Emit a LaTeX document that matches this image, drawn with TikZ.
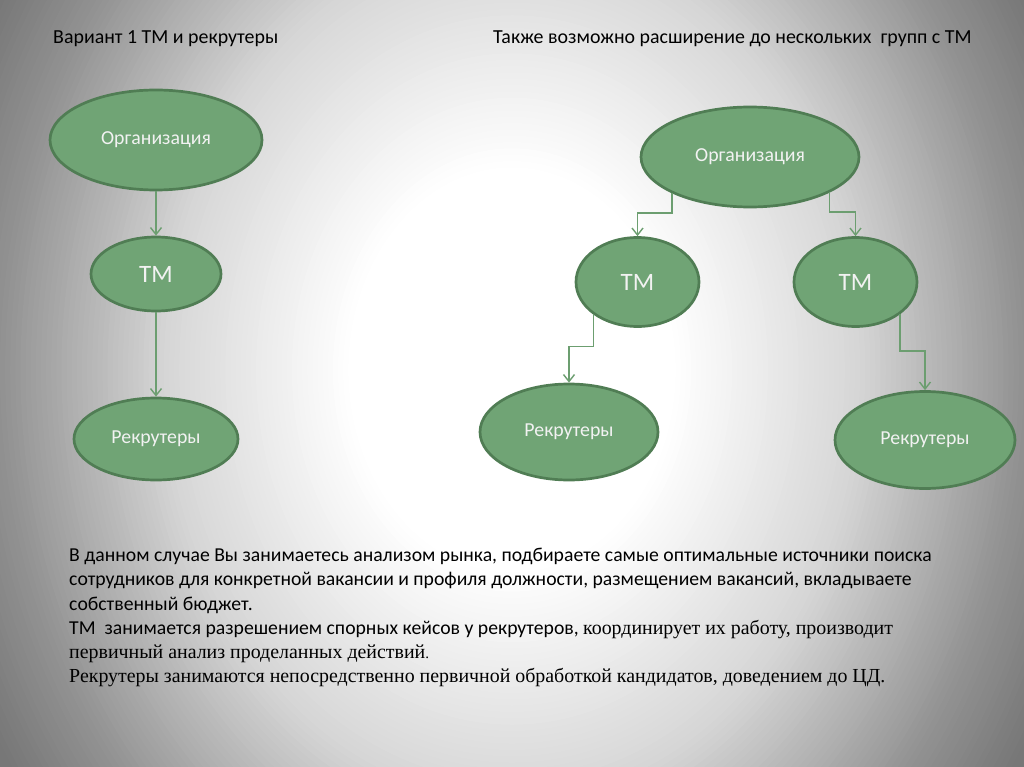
\documentclass[tikz,border=0pt]{standalone}
\usepackage{fontspec}
\setmainfont{Carlito}
\newfontfamily\tnr{Liberation Serif}
\usetikzlibrary{shapes.geometric,arrows.meta}
\definecolor{nodefill}{RGB}{112,164,117}
\definecolor{nodeedge}{RGB}{80,125,84}
\definecolor{connc}{RGB}{108,158,112}
\definecolor{nodetext}{RGB}{242,242,242}
\tikzset{
  blob/.style={ellipse, draw=nodeedge, line width=2.7pt, fill=nodefill, text=nodetext, inner sep=0pt},
  conn/.style={draw=connc, line width=1.4pt, -{Straight Barb[length=7pt,width=11pt,line width=1.4pt]}},
  lbl/.style={anchor=base west, inner sep=0pt, text=black},
  nodefont/.style={font=\fontsize{19.8}{23}\selectfont},
  tmfont/.style={font=\fontsize{25}{28}\selectfont},
  titlefont/.style={font=\fontsize{19.9}{23}\selectfont},
  bodyfont/.style={font=\fontsize{19.7}{23}\selectfont},
  serifbody/.style={font={\tnr\fontsize{19.9}{23}\selectfont}},
}
\begin{document}
\begin{tikzpicture}[x=1pt,y=-1pt]
\useasboundingbox (0,0) rectangle (1024,767);
% background: radial grey-to-white gradient built from nested ellipses
\begin{scope}
\clip (0,0) rectangle (1024,767);
\fill[white] (0,0) rectangle (1024,767);
\foreach \d in {66,65.5,...,16}{
  \pgfmathsetmacro\L{ifthenelse(\d<34.01, 255-(\d-16)*41/18, ifthenelse(\d<50.01, 214-(\d-34)*68/16, ifthenelse(\d<58.01, 146-(\d-50)*26/8, 120-(\d-58)*8/6)))}
  \pgfmathsetmacro\G{min(1,max(0,\L/255))}
  \definecolor{bgtmp}{gray}{\G}
  \fill[bgtmp] (512,370) ellipse [x radius=\d*10.24, y radius=\d*12.67];
}
\end{scope}
% titles
\node[lbl, titlefont] (t1) at (53,44) {Вариант 1 ТМ и рекрутеры};
\node[lbl, titlefont] (t2) at (493,44) {Также возможно расширение до нескольких\ \ групп с ТМ};
% left diagram
\node[blob, nodefont, minimum width=212pt, minimum height=100pt] (orgL) at (156,140) {Организация};
\node[blob, tmfont, minimum width=130pt, minimum height=74pt] (tmL) at (156,274) {ТМ};
\node[blob, nodefont, minimum width=164pt, minimum height=82pt] (recL) at (156,439) {Рекрутеры};
\draw[conn] (orgL) -- (tmL);
\draw[conn] (tmL) -- (recL);
% right diagram
\node[blob, nodefont, minimum width=218pt, minimum height=100pt] (orgR) at (750,157) {Организация};
\node[blob, tmfont, minimum width=123pt, minimum height=89pt] (tmA) at (637.5,282) {ТМ};
\node[blob, tmfont, minimum width=123pt, minimum height=89pt] (tmB) at (855.5,282) {ТМ};
\node[blob, nodefont, minimum width=178pt, minimum height=96pt] (recA) at (569,432) {Рекрутеры};
\node[blob, nodefont, minimum width=180pt, minimum height=97pt] (recB) at (925,440) {Рекрутеры};
\draw[conn] (orgR.205) |- ([yshift=23pt]tmA.north) -- (tmA.north);
\draw[conn] (orgR.336) |- ([yshift=24pt]tmB.north) -- (tmB.north);
\draw[conn] (tmA.217) |- ([yshift=36pt]recA.north) -- (recA.north);
\draw[conn] (tmB.324) |- ([yshift=39pt]recB.north) -- (recB.north);
% body text
\node[lbl, bodyfont] (b1) at (69,561) {В данном случае Вы занимаетесь анализом рынка, подбираете самые оптимальные источники поиска};
\node[lbl, bodyfont] (b2) at (69,585) {сотрудников для конкретной вакансии и профиля должности, размещением вакансий, вкладываете};
\node[lbl, bodyfont] (b3) at (69,610) {собственный бюджет.};
\node[lbl, bodyfont] (b4) at (69,634) {ТМ\ \ занимается разрешением спорных кейсов у рекрутеров, {\tnr\fontsize{19.9}{23}\selectfont координирует их работу, производит}};
\node[lbl, serifbody] (b5) at (69,658) {первичный анализ проделанных действий{\fontsize{15}{17}\selectfont.}};
\node[lbl, serifbody] (b6) at (69,682) {Рекрутеры занимаются непосредственно первичной обработкой кандидатов, доведением до ЦД.};
\end{tikzpicture}
\end{document}
